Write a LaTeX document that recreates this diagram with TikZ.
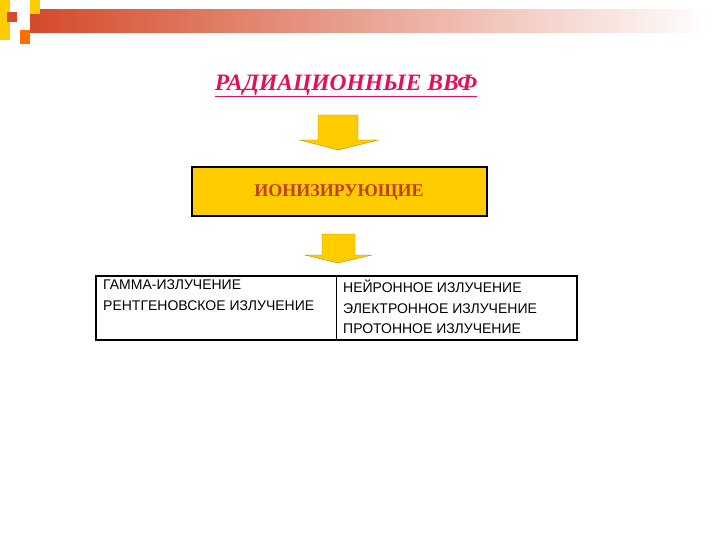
\documentclass[tikz,border=0pt]{standalone}
\usepackage{fontspec}
\setmainfont{Liberation Serif}
\newfontfamily\arialf{Liberation Sans}
\definecolor{gold}{HTML}{FFCC00}
\definecolor{barred}{HTML}{D44A2A}
\definecolor{titlec}{HTML}{E0105A}
\definecolor{ionc}{HTML}{C0401A}
\begin{document}
\begin{tikzpicture}[x=1pt,y=-1pt,
  arrowshape/.style={fill=gold,draw=gold!70!black,line width=0.4pt},
  cell/.style={font=\arialf\fontsize{14}{20.5}\selectfont,align=left,anchor=west,inner sep=0pt}]
\useasboundingbox (0,0) rectangle (720,540);
% header decoration
\shade[left color=barred,right color=white] (30,10) rectangle (710,33);
\fill[gold] (0,0) rectangle (10,40);
\fill[barred] (7,12) rectangle (17,22);
\fill[gold] (30,0) rectangle (40,14);
\fill[orange!85!red] (20,30) rectangle (30,44);
% title
\node[text=titlec,font=\bfseries\itshape\fontsize{23.5}{26}\selectfont] (title) at (346,86) {\color{titlec}\underline{РАДИАЦИОННЫЕ ВВФ}};
% arrow 1
\draw[arrowshape] (318,115) -- (358,115) -- (358,140) -- (378,140) -- (338,150) -- (300,140) -- (318,140) -- cycle;
% box
\node[draw=black,line width=2pt,fill=gold,minimum width=295,minimum height=49,inner sep=0pt] (ion) at (339,192)
  {\bfseries\fontsize{18}{20}\selectfont\textcolor{ionc}{ИОНИЗИРУЮЩИЕ}};
% arrow 2
\draw[arrowshape] (322,234) -- (355,234) -- (355,255) -- (372,255) -- (338,263) -- (305,255) -- (322,255) -- cycle;
% table
\draw[line width=1.2pt] (96,276) rectangle (577,340);
\draw[line width=0.6pt] (336,276) -- (336,340);
\node[cell,anchor=north west] (left) at (103,280) {ГАММА-ИЗЛУЧЕНИЕ\\РЕНТГЕНОВСКОЕ ИЗЛУЧЕНИЕ};
\node[cell,anchor=north west] (right) at (343,280) {НЕЙРОННОЕ ИЗЛУЧЕНИЕ\\ЭЛЕКТРОННОЕ ИЗЛУЧЕНИЕ\\ПРОТОННОЕ ИЗЛУЧЕНИЕ};
\end{tikzpicture}
\end{document}
